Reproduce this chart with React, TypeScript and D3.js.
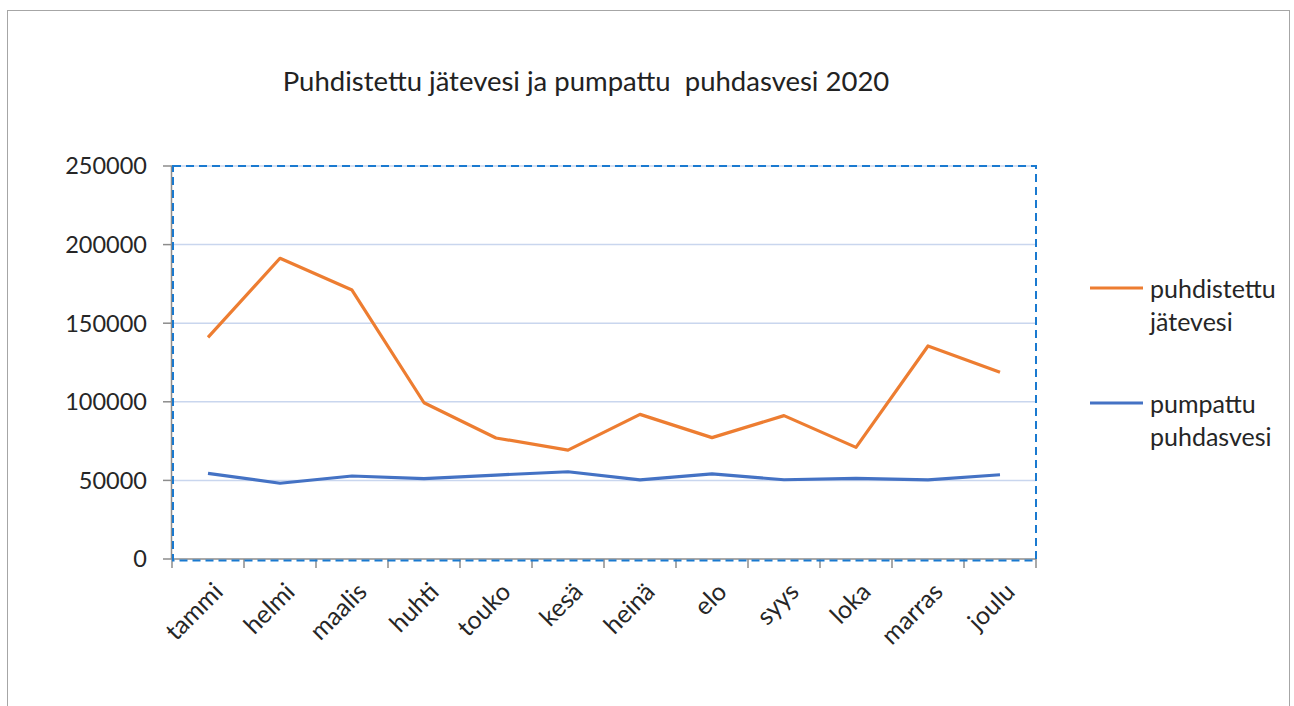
import React from "react";
import * as d3 from "d3";

const months = ["tammi", "helmi", "maalis", "huhti", "touko", "kesä", "heinä", "elo", "syys", "loka", "marras", "joulu"];
const jatevesi = [141000, 191300, 171100, 99400, 77000, 69300, 92000, 77200, 91200, 71000, 135500, 118800];
const puhdasvesi = [54500, 48200, 52800, 51100, 53400, 55500, 50300, 54100, 50400, 51300, 50300, 53600];
const yTicks = [0, 50000, 100000, 150000, 200000, 250000];
const seriesNames = [["puhdistettu", "jätevesi"], ["pumpattu", "puhdasvesi"]];
const title = "Puhdistettu jätevesi ja pumpattu\u00a0 puhdasvesi 2020";

const W = 1294;
const H = 706;
const plot = { left: 172, top: 166, right: 1036, bottom: 559 };
const font = "Lato, 'Open Sans', sans-serif";

export default function App() {
  const x = d3.scaleBand<string>().domain(months).range([plot.left, plot.right]);
  const y = d3.scaleLinear().domain([0, 250000]).range([plot.bottom, plot.top]);
  const cx = (m: string) => (x(m) as number) + x.bandwidth() / 2;

  const line = d3.line<number>()
    .x((_, i) => cx(months[i]))
    .y(d => y(d));

  const series = [
    { values: jatevesi, color: "#ED7D31" },
    { values: puhdasvesi, color: "#4472C4" },
  ];

  const bounds = months.map(m => x(m) as number).concat([plot.right]);

  return (
    <svg width={W} height={H} style={{ position: "absolute", left: 0, top: 0, background: "#fff" }} fontFamily={font}>
      <rect x={7.5} y={10.5} width={1282} height={720} fill="#fff" stroke="#a6a6a6" strokeWidth={1} />

      <text x={586} y={91} textAnchor="middle" fontSize={27.5} fill="#222">{title}</text>

      {/* gridlines */}
      {yTicks.filter(t => t > 0).map(t => (
        <line key={t} x1={plot.left} x2={plot.right} y1={y(t)} y2={y(t)} stroke="#c9d6ee" strokeWidth={1.5} />
      ))}

      {/* y axis */}
      <line x1={plot.left - 0.5} x2={plot.left - 0.5} y1={plot.top} y2={plot.bottom} stroke="#8c8c8c" strokeWidth={1.5} />
      {yTicks.map(t => (
        <g key={t}>
          <line x1={plot.left - 9} x2={plot.left} y1={y(t)} y2={y(t)} stroke="#8c8c8c" strokeWidth={1.5} />
          <text x={147} y={y(t)} dy="0.36em" textAnchor="end" fontSize={23.5} fill="#262626">{t}</text>
        </g>
      ))}

      {/* x axis */}
      <line x1={plot.left} x2={plot.right} y1={plot.bottom} y2={plot.bottom} stroke="#8c8c8c" strokeWidth={1.5} />
      {bounds.map((b, i) => (
        <line key={i} x1={b} x2={b} y1={plot.bottom} y2={plot.bottom + 9} stroke="#8c8c8c" strokeWidth={1.5} />
      ))}
      {months.map(m => (
        <text key={m} transform={`translate(${cx(m) + 4},${plot.bottom + 22}) rotate(-45)`} textAnchor="end"
          dy="0.7em" fontSize={25} fill="#262626">{m}</text>
      ))}

      {/* plot area border */}
      <rect x={plot.left + 1} y={plot.top} width={plot.right - plot.left - 1} height={plot.bottom - plot.top + 1.5}
        fill="none" stroke="#1a7ad0" strokeWidth={2} strokeDasharray="8,5" />

      {/* lines */}
      {series.map((s, i) => (
        <path key={i} d={line(s.values) as string} fill="none" stroke={s.color} strokeWidth={3.2} strokeLinejoin="round" />
      ))}

      {/* legend */}
      {series.map((s, i) => {
        const ly = i === 0 ? 288 : 403;
        return (
          <g key={i}>
            <line x1={1090} x2={1143} y1={ly} y2={ly} stroke={s.color} strokeWidth={3.2} />
            <text x={1150} y={ly + 10} fontSize={25} fill="#262626">{seriesNames[i][0]}</text>
            <text x={1150} y={ly + 43} fontSize={25} fill="#262626">{seriesNames[i][1]}</text>
          </g>
        );
      })}
    </svg>
  );
}
